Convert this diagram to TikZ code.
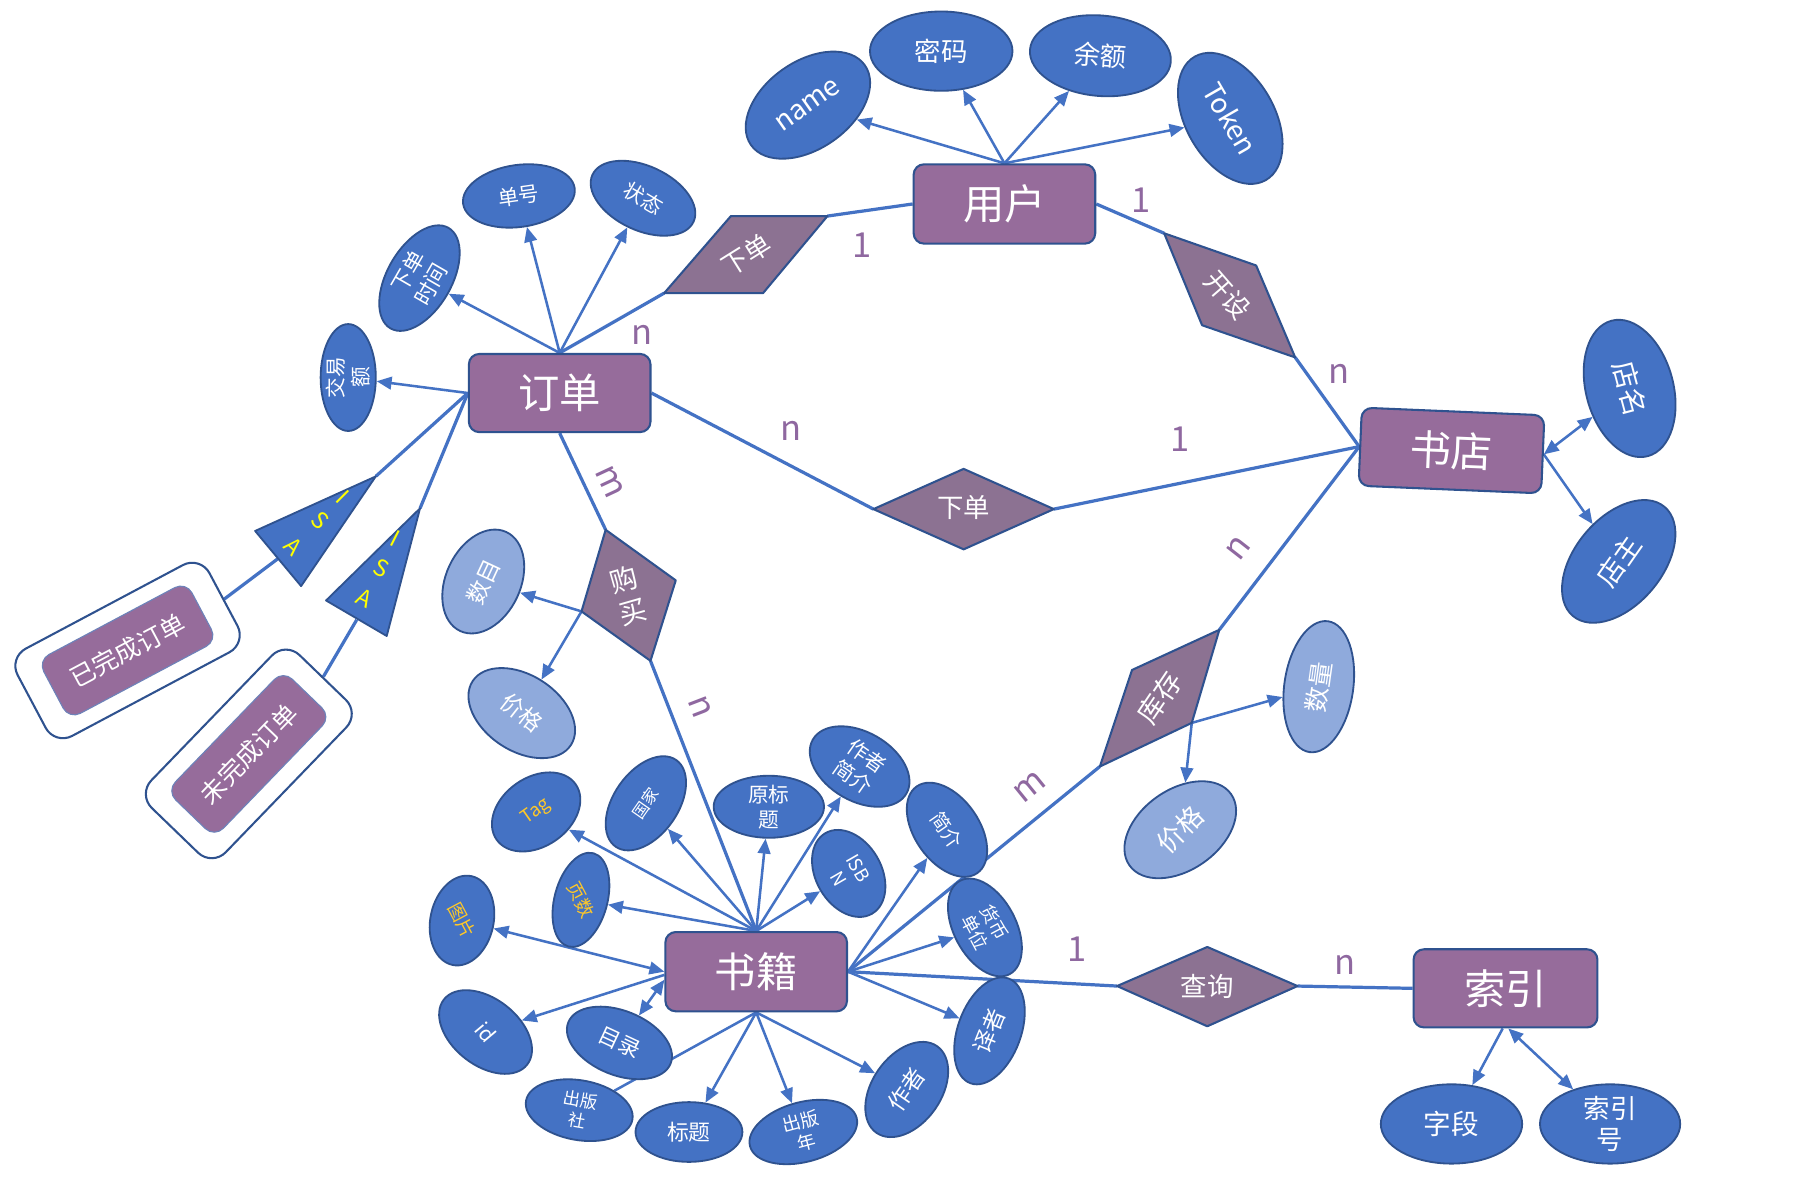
\documentclass[tikz,border=0pt]{standalone}
\usepackage{fontspec}
\setmainfont{Noto Sans CJK SC}
\usetikzlibrary{arrows.meta,shapes.geometric}

\definecolor{entc}{RGB}{150,108,155}
\definecolor{relc}{RGB}{140,114,146}
\definecolor{bordc}{RGB}{47,82,143}
\definecolor{attrc}{RGB}{68,114,196}
\definecolor{lattrc}{RGB}{143,170,220}
\definecolor{linec}{RGB}{68,114,196}
\definecolor{cardc}{RGB}{143,104,160}
\definecolor{isac}{RGB}{255,255,0}
\definecolor{tagc}{RGB}{255,200,40}
\definecolor{thinc}{RGB}{110,130,185}

\newcommand{\fsz}[1]{\fontsize{#1}{\dimexpr #1pt*6/5\relax}\selectfont}

\pgfdeclarelayer{paper}
\pgfdeclarelayer{wires}
\pgfsetlayers{paper,wires,main}

\tikzset{
  ent/.style={draw=bordc, fill=entc, line width=1.8pt, rounded corners=9pt, text=white, inner sep=0pt, font=\fsz{36}},
  attr/.style={ellipse, draw=bordc, fill=attrc, line width=1.6pt, inner sep=0pt},
  lattr/.style={attr, fill=lattrc},
  atxt/.style={text=white, align=center, inner sep=0pt},
  rel/.style={draw=bordc, fill=relc, line width=1.8pt, line join=round},
  rtxt/.style={text=white, align=center, inner sep=0pt, font=\fsz{23}},
  conn/.style={draw=linec, line width=2.8pt},
  arr/.style={draw=linec, line width=2.2pt, -{Triangle[length=13pt,width=11pt]}},
  darr/.style={draw=linec, line width=2.2pt, {Triangle[length=13pt,width=11pt]}-{Triangle[length=13pt,width=11pt]}},
  card/.style={text=cardc, inner sep=0pt, font=\fsz{30}},
  isal/.style={text=isac, inner sep=0pt, font=\fsz{20}},
  isatri/.style={draw=bordc, fill=attrc, line width=1.6pt, line join=round},
  outerbox/.style={draw=bordc, fill=white, line width=1.8pt, rounded corners=17pt, inner sep=0pt},
  innerbox/.style={draw=thinc, fill=entc, line width=1pt, rounded corners=11pt, text=white, inner sep=0pt, font=\fsz{22}},
}

% attribute: [style]{name}{x,y}{width}{height}{shape angle}{text angle}{font size}{text}
\newcommand{\attr}[9][attr]{%
  \node[#1, minimum width=#4pt, minimum height=#5pt, rotate=#6] (#2) at (#3) {};
  \node[atxt, rotate=#7, font=\fsz{#8}] (#2-t) at (#2.center) {#9};
}

\begin{document}
\begin{tikzpicture}[x=1pt,y=-1pt]
\begin{pgfonlayer}{paper}
  \fill[white] (0,0) rectangle (1568,1041);
\end{pgfonlayer}
\useasboundingbox (0,0) rectangle (1568,1041);

% ---------- entities ----------
\node[ent, minimum width=158pt, minimum height=69pt] (user) at (874,177.5) {用户};
\node[ent, minimum width=158pt, minimum height=68pt] (order) at (487,342) {订单};
\node[ent, minimum width=159pt, minimum height=68pt, rotate=-2.4] (store) at (1263,392) {书店};
\node[ent, minimum width=158pt, minimum height=69pt] (book) at (658,845.5) {书籍};
\node[ent, minimum width=160pt, minimum height=68pt] (index) at (1310,860) {索引};

% ---------- sub-types of order ----------
\node[outerbox, minimum width=189pt, minimum height=86pt, rotate=28] (doneo) at (111,566) {};
\node[innerbox, minimum width=146pt, minimum height=58pt, rotate=28] (done) at (111,566) {已完成订单};
\node[outerbox, minimum width=185pt, minimum height=90pt, rotate=46] (undoneo) at (216.5,656) {};
\node[innerbox, minimum width=146pt, minimum height=58pt, rotate=46] (undone) at (216.5,656) {未完成订单};

% ---------- ISA triangles ----------
\coordinate (t1a) at (327,414.5);
\coordinate (t1b) at (222,462);
\coordinate (t1c) at (262,510);
\coordinate (t1m) at (242,486);
\coordinate (t2a) at (365.5,442.3);
\coordinate (t2b) at (283.7,522.5);
\coordinate (t2c) at (336.5,553.4);
\coordinate (t2m) at (310.4,539.3);
\draw[isatri] (t1a) -- (t1b) -- (t1c) -- cycle;
\draw[isatri] (t2a) -- (t2b) -- (t2c) -- cycle;
\node[isal, rotate=-45] (isa1i) at (297.9,432.8) {I};
\node[isal, rotate=-45] (isa1s) at (278.5,453) {S};
\node[isal, rotate=-45] (isa1a) at (255.3,475.2) {A};
\node[isal, rotate=-27] (isa2i) at (343.7,468.5) {I};
\node[isal, rotate=-27] (isa2s) at (332.1,494.6) {S};
\node[isal, rotate=-27] (isa2a) at (317.6,520.7) {A};

% ---------- relationships ----------
% 下单 (user - order)
\coordinate (po1) at (578,255);
\coordinate (po2) at (636,188);
\coordinate (po3) at (720,188);
\coordinate (po4) at (664,255);
\draw[rel] (po1) -- (po2) -- (po3) -- (po4) -- cycle;
\node[rtxt, rotate=32] (po-t) at (649.5,221.5) {下单};
% 开设 (user - store)
\coordinate (ks1) at (1013,203);
\coordinate (ks2) at (1093,231);
\coordinate (ks3) at (1127,311);
\coordinate (ks4) at (1046,283);
\draw[rel] (ks1) -- (ks2) -- (ks3) -- (ks4) -- cycle;
\node[rtxt, rotate=-49] (ks-t) at (1068,257) {开设};
% 下单 (order - store)
\coordinate (pm1) at (760,443);
\coordinate (pm2) at (838.5,408);
\coordinate (pm3) at (917,443);
\coordinate (pm4) at (838.5,478);
\draw[rel] (pm1) -- (pm2) -- (pm3) -- (pm4) -- cycle;
\node[rtxt] (pm-t) at (838.5,442) {下单};
% 购买 (order - book)
\coordinate (gm1) at (527,461);
\coordinate (gm2) at (588,505);
\coordinate (gm3) at (566,575);
\coordinate (gm4) at (506,532);
\draw[rel] (gm1) -- (gm2) -- (gm3) -- (gm4) -- cycle;
\node[rtxt, rotate=16, font=\fsz{24}] (gm-t) at (547,518) {购\\买};
% 库存 (store - book)
\coordinate (kc1) at (1061,548);
\coordinate (kc2) at (1037,629);
\coordinate (kc3) at (957,667);
\coordinate (kc4) at (985,583);
\draw[rel] (kc1) -- (kc2) -- (kc3) -- (kc4) -- cycle;
\node[rtxt, rotate=56, font=\fsz{24}] (kc-t) at (1009,607) {库存};
% 查询 (book - index)
\coordinate (cx1) at (972,858);
\coordinate (cx2) at (1050.5,824);
\coordinate (cx3) at (1129,858);
\coordinate (cx4) at (1050.5,893);
\draw[rel] (cx1) -- (cx2) -- (cx3) -- (cx4) -- cycle;
\node[rtxt] (cx-t) at (1050.5,858) {查询};

% ---------- attributes ----------
% user
\attr{aname}{703,91.5}{121}{76}{35}{35}{24}{name}
\attr{apwd}{819,44.5}{124}{69}{0}{0}{23}{密码}
\attr{abal}{957.5,48.5}{123}{70}{-5}{-4}{23}{余额}
\attr{atok}{1070.5,103}{124}{77}{-60}{-60}{24}{Token}
% order
\attr{asn}{451.5,170.5}{98}{54}{8}{8}{18}{单号}
\attr{ast}{559.5,172.5}{97}{56}{-25}{-30}{18}{状态}
\attr{atime}{365,242}{101}{56}{60}{60}{19}{下单\\时间}
\attr{aamt}{303,328.5}{93}{48}{90}{90}{18}{交易\\额}
% store
\attr{asname}{1418,338}{122}{76}{-75}{-75}{24}{店名}
\attr{asown}{1408.5,488.5}{124}{76}{50}{55}{24}{店主}
% purchase
\attr[lattr]{acnt}{420.5,506}{95}{65}{65}{65}{20}{数目}
\attr[lattr]{apr1}{454,620.5}{102}{66}{-33}{-38}{20}{价格}
% stock
\attr[lattr]{aqty}{1147.5,597.5}{115}{60}{82}{82}{22}{数量}
\attr[lattr]{apr2}{1027,722}{108}{70}{35}{45}{23}{价格}
% book
\attr{atag}{466.5,706.5}{84}{60}{35}{35}{16}{\color{tagc}Tag}
\attr{actry}{562,699}{92}{56}{55}{55}{14}{国家}
\attr{aotit}{669,702}{96}{54}{0}{0}{18}{原标\\题}
\attr{aabio}{748,667}{94}{60}{-30}{-35}{18}{作者\\简介}
\attr{aisbn}{738.5,760}{81}{57}{-60}{-60}{16}{ISB\\N}
\attr{aintro}{824,722}{92}{56}{-55}{-55}{17}{简介}
\attr{acur}{857,807}{92}{54}{-62}{-62}{16}{货币\\单位}
\attr{atrans}{861,897}{97}{55}{70}{68}{20}{译者}
\attr{aauth}{789,948}{92}{60}{55}{55}{20}{作者}
\attr{apyear}{699,985}{96}{52}{15}{15}{16}{出版\\年}
\attr{atitle}{599.5,985}{93}{52}{0}{0}{19}{标题}
\attr{apub}{504,966}{94}{52}{-10}{-10}{15}{出版\\社}
\attr{atoc}{539,907.5}{96}{56}{-22}{-25}{19}{目录}
\attr{aid}{422.5,898}{92}{58}{-38}{-50}{18}{id}
\attr{apic}{402,801}{79}{55}{78}{-62}{16}{\color{tagc}图片}
\attr{apages}{505.5,783}{84}{46}{75}{-62}{16}{\color{tagc}页数}
% index
\attr{afield}{1263,978}{123}{69}{0}{0}{24}{字段}
\attr{aidxno}{1401,978}{122}{69}{0}{0}{23}{索引\\号}

% ---------- cardinalities ----------
\node[card] (c1) at (750,213) {1};
\node[card] (c2) at (559,291) {n};
\node[card] (c3) at (993,174) {1};
\node[card] (c4) at (1165,325) {n};
\node[card] (c5) at (688,375) {n};
\node[card] (c6) at (1027,382) {1};
\node[card, rotate=-65] (c7) at (531,419) {m};
\node[card, rotate=-69] (c8) at (609,615) {n};
\node[card, rotate=52] (c9) at (1077.6,477) {n};
\node[card, rotate=39] (c10) at (896,684.6) {m};
\node[card] (c11) at (937,826) {1};
\node[card] (c12) at (1170,840) {n};

% ---------- connectors ----------
\begin{pgfonlayer}{wires}
  % relationships
  \draw[conn] (user.west) -- (po3);
  \draw[conn] (po1) -- (order.north);
  \draw[conn] (user.east) -- (ks1);
  \draw[conn] (ks3) -- (store.west);
  \draw[conn] (order.east) -- (pm1);
  \draw[conn] (pm3) -- (store.west);
  \draw[conn] (order.south) -- (gm1);
  \draw[conn] (gm3) -- (book.north);
  \draw[conn] (store.west) -- (kc1);
  \draw[conn] (kc3) -- (book.east);
  \draw[conn] (book.east) -- (cx1);
  \draw[conn] (cx3) -- (index.west);
  % ISA
  \draw[conn] (order.west) -- (t1a);
  \draw[conn] (order.west) -- (t2a);
  \draw[conn] (doneo.east) -- (t1m);
  \draw[conn] (undoneo.east) -- (t2m);
  % user attributes
  \draw[arr] (user.north) -- (aname);
  \draw[arr] (user.north) -- (apwd);
  \draw[arr] (user.north) -- (abal);
  \draw[arr] (user.north) -- (atok);
  % order attributes
  \draw[arr] (order.north) -- (asn);
  \draw[arr] (order.north) -- (ast);
  \draw[arr] (order.north) -- (atime);
  \draw[arr] (order.west) -- (aamt);
  % store attributes
  \draw[darr] (store.east) -- (asname);
  \draw[arr] (store.east) -- (asown);
  % relationship attributes
  \draw[arr] (gm4) -- (acnt);
  \draw[arr] (gm4) -- (apr1);
  \draw[arr] (kc2) -- (aqty);
  \draw[arr] (kc2) -- (apr2);
  % book attributes
  \draw[arr] (book.north) -- (atag);
  \draw[arr] (book.north) -- (actry);
  \draw[arr] (book.north) -- (aotit);
  \draw[arr] (book.north) -- (aabio);
  \draw[arr] (book.north) -- (aisbn);
  \draw[arr] (book.north) -- (apages);
  \draw[darr] (book.west) -- (apic);
  \draw[arr] (book.182) -- (aid);
  \draw[darr] (book.185) -- (atoc);
  \draw[conn, line width=2.2pt] (book.south) -- (apub);
  \draw[arr] (book.south) -- (atitle);
  \draw[arr] (book.south) -- (apyear);
  \draw[arr] (book.south) -- (aauth);
  \draw[arr] (book.east) -- (atrans);
  \draw[arr] (book.east) -- (acur);
  \draw[arr] (book.east) -- (aintro);
  % index attributes
  \draw[arr] (index.-94) -- (afield);
  \draw[darr] (index.-86) -- (aidxno);
\end{pgfonlayer}
\end{tikzpicture}
\end{document}
